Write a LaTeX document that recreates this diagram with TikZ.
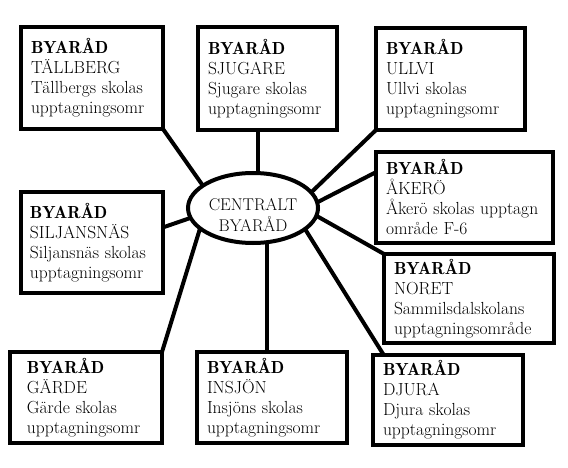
\documentclass[tikz,border=0pt]{standalone}
\usetikzlibrary{shapes.geometric}
\tikzset{byblock/.style={draw,line width=4pt,anchor=north west,align=left,inner xsep=10pt,inner ysep=0pt,outer sep=0pt,font=\fontsize{17.5}{20}\selectfont},
         hub/.style={draw,ellipse,line width=4pt,inner sep=0pt,outer sep=0pt,minimum width=130pt,minimum height=70pt,font=\fontsize{17}{20}\selectfont},
         link/.style={line width=4pt}
}
\newcommand{\byhead}{{\fontseries{b}\selectfont BYARÅD}}

\begin{document}
\begin{tikzpicture}[x=1pt,y=-1pt]
\useasboundingbox (0,0) rectangle (568,468);

% centre
\node[hub] (hub) at (253,208) {\raisebox{-2pt}[0pt][0pt]{\begin{tabular}[t]{@{}c@{}}CENTRALT\\BYARÅD\end{tabular}}};

% byarad around it
\node[byblock,text width=122pt,minimum height=102pt] (tallberg) at (21,27) {\byhead\\TÄLLBERG\\Tällbergs skolas\\upptagningsomr};
\node[byblock,text width=119pt,minimum height=103pt] (sjugare) at (198,27) {\byhead\\SJUGARE\\Sjugare skolas\\upptagningsomr};
\node[byblock,text width=129pt,minimum height=102pt] (ullvi) at (376,28) {\byhead\\ULLVI\\Ullvi skolas\\upptagningsomr};
\node[byblock,text width=157pt,minimum height=91pt] (akero) at (376,152) {\byhead\\ÅKERÖ\\Åkerö skolas upptagn\\område F-6};
\node[byblock,text width=150pt,minimum height=89pt] (noret) at (384,254) {\byhead\\NORET\\Sammilsdalskolans\\upptagningsområde};
\node[byblock,inner xsep=9pt,text width=124pt,minimum height=101pt] (siljansnas) at (21,192) {\byhead\\SILJANSNÄS\\Siljansnäs skolas\\upptagningsomr};
\node[byblock,inner xsep=17pt,text width=118pt,minimum height=91pt] (garde) at (10,352) {\byhead\\GÄRDE\\Gärde skolas\\upptagningsomr};
\node[byblock,text width=130pt,minimum height=91pt] (insjon) at (197,352) {\byhead\\INSJÖN\\Insjöns skolas\\upptagningsomr};
\node[byblock,text width=130pt,minimum height=90pt] (djura) at (373,355) {\byhead\\DJURA\\Djura skolas\\upptagningsomr};

\draw[link] (tallberg.south east) -- (hub.156);
\draw[link] (hub.82) -- (hub.82 |- sjugare.south);
\draw[link] (ullvi.south west) -- (hub.15);
\draw[link] (akero.164) -- (hub.5);
\draw[link] (hub.-7) -- (noret.north west);
\draw[link] (siljansnas.12) -- (hub.189);
\draw[link] (hub.201) -- (garde.north east);
\draw[link] (hub.292) -- (hub.292 |- insjon.north);
\draw[link] (hub.-22) -- (djura.145);

\end{tikzpicture}
\end{document}
